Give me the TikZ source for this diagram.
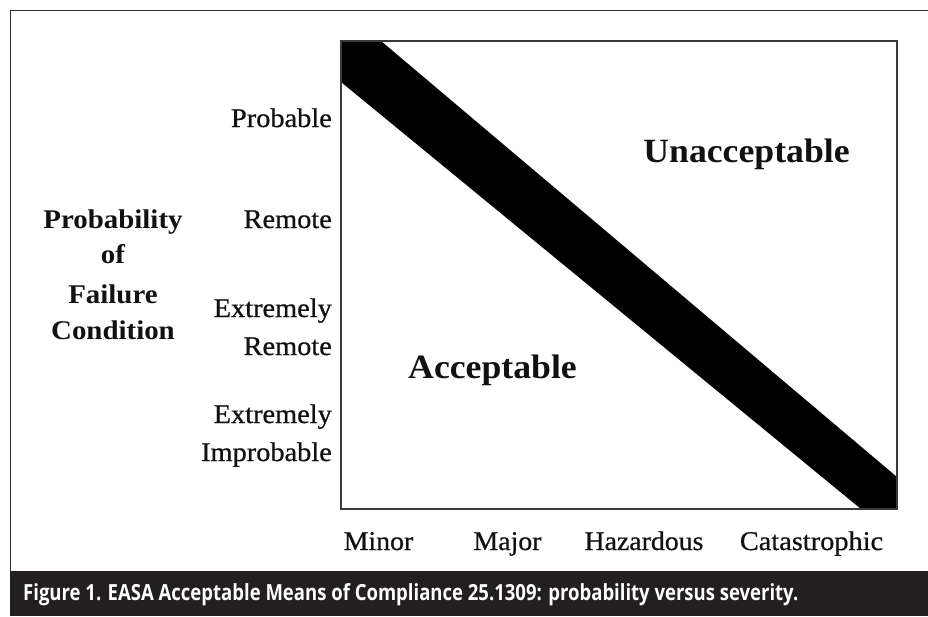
\documentclass[tikz,border=0pt]{standalone}
\usepackage{fontspec}
\setmainfont{Liberation Serif}
\newfontfamily\lblfont[FakeBold=0.7]{Liberation Serif}
\newfontfamily\capfont{Open Sans}
\definecolor{barcol}{HTML}{231F20}
\definecolor{boxcol}{HTML}{3A3A3A}
\definecolor{framecol}{HTML}{2E2E2E}
\definecolor{txtcol}{HTML}{111111}
\newcommand\hstretch[2]{\scalebox{#1}[1]{#2}}
\tikzset{
  lbl/.style={inner sep=0pt, text=txtcol, font=\lblfont\fontsize{27}{32}\selectfont},
  ttl/.style={inner sep=0pt, text=txtcol, font=\fontsize{27}{32}\selectfont\bfseries},
  big/.style={inner sep=0pt, text=txtcol, font=\fontsize{34}{40}\selectfont\bfseries},
  plotbox/.style={draw=boxcol, line width=2.4pt},
  band/.style={fill=black},
  framel/.style={draw=framecol, line width=1pt}
}
\begin{document}
\begin{tikzpicture}[x=1pt,y=-1pt]
\useasboundingbox (0,0) rectangle (928,616);
% outer frame and caption bar
\fill[barcol] (10,571) rectangle (928,616);
\draw[framel] (10,571) -- (10,10) -- (928,10);
% band
\fill[band] (341,41) -- (381,41) -- (897,477) -- (897,509) -- (861,509) -- (341,82) -- cycle;
% plot box
\draw[plotbox] (341,41) rectangle (897,509);
% y labels
\node[lbl, anchor=base east] (prob) at (332,127) {\hstretch{1.05}{Probable}};
\node[lbl, anchor=base east] (rem) at (332,228) {\hstretch{1.05}{Remote}};
\node[lbl, anchor=base east] (exr1) at (332,317) {\hstretch{1.05}{Extremely}};
\node[lbl, anchor=base east] (exr2) at (332,355) {\hstretch{1.05}{Remote}};
\node[lbl, anchor=base east] (exi1) at (332,423) {\hstretch{1.05}{Extremely}};
\node[lbl, anchor=base east] (exi2) at (332,461) {\hstretch{1.05}{Improbable}};
% title
\node[ttl, anchor=base] (t1) at (113,228) {\hstretch{1.07}{Probability}};
\node[ttl, anchor=base] (t2) at (113,263) {\hstretch{1.07}{of}};
\node[ttl, anchor=base] (t3) at (113,303) {\hstretch{1.07}{Failure}};
\node[ttl, anchor=base] (t4) at (113,339) {\hstretch{1.07}{Condition}};
% x labels
\node[lbl, anchor=base] (minor) at (378.5,550) {\hstretch{1.03}{Minor}};
\node[lbl, anchor=base] (major) at (507.5,550) {\hstretch{1.03}{Major}};
\node[lbl, anchor=base] (haz) at (644,550) {\hstretch{1.03}{Hazardous}};
\node[lbl, anchor=base] (cat) at (811.5,550) {\hstretch{1.05}{Catastrophic}};
% regions
\node[big, anchor=base] (acc) at (492.5,378) {\hstretch{1.05}{Acceptable}};
\node[big, anchor=base] (unacc) at (746.5,162) {\hstretch{1.05}{Unacceptable}};
% caption
\node[anchor=base west, inner sep=0pt, text=white] (cap) at (23,600)
  {\resizebox{775pt}{17pt}{\capfont\bfseries Figure 1. EASA Acceptable Means of Compliance 25.1309: probability versus severity.}};
\end{tikzpicture}
\end{document}
